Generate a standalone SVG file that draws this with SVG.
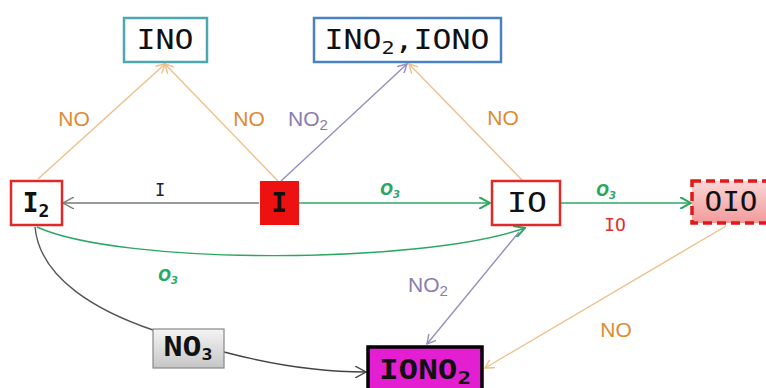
<svg xmlns="http://www.w3.org/2000/svg" width="766" height="388" viewBox="0 0 766 388">
<style>
.node{font-family:"DejaVu Sans Mono",monospace;font-size:26px;fill:#111;text-anchor:middle}
.b{font-weight:bold}
.lab{font-family:"Liberation Sans",sans-serif;font-size:21px;text-anchor:middle}
.o3{font-family:"DejaVu Sans",sans-serif;font-size:15px;font-weight:bold;font-style:italic;fill:#2aa862;text-anchor:middle}
.orange{fill:#e08a30}
.purple{fill:#8a7cb0}
.ln{fill:none;stroke-width:1.4}
</style>
<defs>
<marker id="aOr" viewBox="0 0 10 10" refX="9" refY="5" markerWidth="10" markerHeight="10" markerUnits="userSpaceOnUse" orient="auto"><path d="M0,0 L9,5 L0,10" fill="none" stroke="#eec08a" stroke-width="1.4"/></marker>
<marker id="aPu" viewBox="0 0 10 10" refX="9" refY="5" markerWidth="10" markerHeight="10" markerUnits="userSpaceOnUse" orient="auto"><path d="M0,0 L9,5 L0,10" fill="none" stroke="#9a8cc0" stroke-width="1.4"/></marker>
<marker id="aGr" viewBox="0 0 12 12" refX="11" refY="6" markerWidth="12" markerHeight="12" markerUnits="userSpaceOnUse" orient="auto"><path d="M0,0 L11,6 L0,12" fill="none" stroke="#2aa862" stroke-width="2"/></marker>
<marker id="aGy" viewBox="0 0 12 12" refX="11" refY="6" markerWidth="12" markerHeight="12" markerUnits="userSpaceOnUse" orient="auto"><path d="M0,0 L11,6 L0,12" fill="none" stroke="#777" stroke-width="1.4"/></marker>
<marker id="aBk" viewBox="0 0 12 12" refX="11" refY="6" markerWidth="12" markerHeight="12" markerUnits="userSpaceOnUse" orient="auto"><path d="M0,0 L11,6 L0,12" fill="none" stroke="#444" stroke-width="1.4"/></marker>
<linearGradient id="gOIO" x1="0" y1="0" x2="0" y2="1"><stop offset="0" stop-color="#fbd6d6"/><stop offset="1" stop-color="#f29a9a"/></linearGradient>
<linearGradient id="gNO3" x1="0" y1="0" x2="0" y2="1"><stop offset="0" stop-color="#f4f4f4"/><stop offset="1" stop-color="#c6c6c6"/></linearGradient>
</defs>

<g id="connectors">
<line class="ln" x1="38" y1="179" x2="165" y2="64" stroke="#eec08a" marker-end="url(#aOr)"/>
<line class="ln" x1="278" y1="181" x2="165" y2="64" stroke="#eec08a" marker-end="url(#aOr)"/>
<line class="ln" x1="281" y1="181" x2="407" y2="64" stroke="#9a8cc0" marker-end="url(#aPu)"/>
<line class="ln" x1="522" y1="180" x2="409" y2="64" stroke="#eec08a" marker-end="url(#aOr)"/>
<line class="ln" x1="259" y1="203" x2="63" y2="203" stroke="#777" marker-end="url(#aGy)"/>
<line class="ln" x1="299" y1="203" x2="490" y2="203" stroke="#2aa862" stroke-width="2" marker-end="url(#aGr)"/>
<line class="ln" x1="561" y1="203" x2="691" y2="203" stroke="#2aa862" stroke-width="2" marker-end="url(#aGr)"/>
<path class="ln" d="M37,227 C120,265 420,265 525,228" stroke="#2aa862" stroke-width="2" marker-end="url(#aGr)"/>
<path class="ln" d="M35,227 C40,280 100,312 153,330" stroke="#555"/>
<path class="ln" d="M224,352 Q300,372 366,372" stroke="#444" marker-end="url(#aBk)"/>
<line class="ln" x1="519" y1="232" x2="427" y2="344" stroke="#9a8cc0" marker-end="url(#aPu)"/>
<line class="ln" x1="726" y1="226" x2="485" y2="368" stroke="#eec08a" marker-end="url(#aOr)"/>
<text class="lab orange" x="74" y="126">NO</text>
<text class="lab orange" x="249" y="126">NO</text>
<text class="lab purple" x="308" y="126">NO<tspan font-size="15" dy="4">2</tspan></text>
<text class="lab orange" x="503" y="125">NO</text>
<text x="160" y="196" font-family="DejaVu Sans Mono, monospace" font-size="17" fill="#222" text-anchor="middle">I</text>
<text class="o3" x="390" y="195">O<tspan font-size="10" dy="3">3</tspan></text>
<text class="o3" x="606" y="196">O<tspan font-size="10" dy="3">3</tspan></text>
<text x="615" y="231" font-family="DejaVu Sans Mono, monospace" font-size="18" fill="#e03030" text-anchor="middle">IO</text>
<text class="o3" x="168" y="281">O<tspan font-size="10" dy="3">3</tspan></text>
<text class="lab purple" x="428" y="292">NO<tspan font-size="15" dy="4">2</tspan></text>
<text class="lab orange" x="616" y="337">NO</text>
</g>

<g id="INO">
<rect x="124" y="18" width="83" height="44" fill="#fff" stroke="#4aa8ae" stroke-width="2.5"/>
<text class="node" x="165" y="49" textLength="57" lengthAdjust="spacingAndGlyphs">INO</text>
</g>
<g id="INO2_IONO">
<rect x="314" y="18" width="187" height="44" fill="#fff" stroke="#4a82c2" stroke-width="2.5"/>
<text class="node" x="407" y="49" textLength="165" lengthAdjust="spacingAndGlyphs">INO<tspan font-size="18" dy="5">2</tspan><tspan dy="-5">,IONO</tspan></text>
</g>
<g id="I2">
<rect x="11" y="181" width="51" height="44" fill="#fff" stroke="#e02a2a" stroke-width="2.5"/>
<text class="node b" x="36" y="212">I<tspan font-size="18" dy="5">2</tspan></text>
</g>
<g id="I">
<rect x="260" y="181" width="39" height="44" fill="#ee1111"/>
<text class="node b" x="279" y="212">I</text>
</g>
<g id="IO">
<rect x="492" y="181" width="68" height="44" fill="#fff" stroke="#e02a2a" stroke-width="2.5"/>
<text class="node" x="527" y="212" textLength="40" lengthAdjust="spacingAndGlyphs">IO</text>
</g>
<g id="OIO">
<rect x="692" y="181" width="80" height="42" fill="url(#gOIO)" stroke="#e01818" stroke-width="3.5" stroke-dasharray="9,5"/>
<text class="node" x="731" y="211" textLength="53" lengthAdjust="spacingAndGlyphs">OIO</text>
</g>
<g id="NO3">
<rect x="153" y="329" width="71" height="39" fill="url(#gNO3)" stroke="#888" stroke-width="1.2"/>
<text class="node b" x="188" y="356" font-size="21" textLength="49" lengthAdjust="spacingAndGlyphs">NO<tspan font-size="15" dy="4">3</tspan></text>
</g>
<g id="IONO2">
<rect x="368" y="347" width="114" height="50" fill="#e41fd2" stroke="#000" stroke-width="3.5"/>
<text class="node b" x="425" y="379" textLength="92" lengthAdjust="spacingAndGlyphs">IONO<tspan font-size="18" dy="5">2</tspan></text>
</g>
</svg>
